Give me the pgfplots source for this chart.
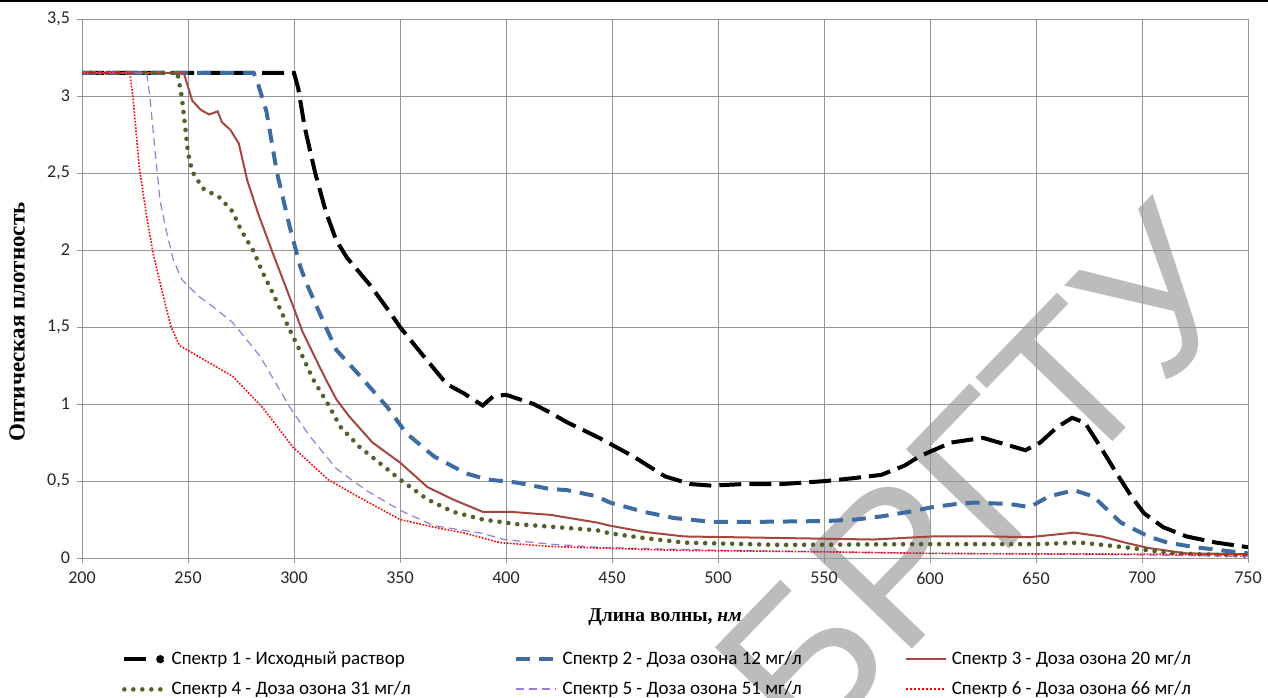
\documentclass[border=0pt]{standalone}
\usepackage{fontspec}
\setmainfont{Carlito}
\newfontfamily\tnr{Liberation Serif}
\newfontfamily\wm{Liberation Sans}
\usepackage{pgfplots}
\pgfplotsset{compat=1.18}
\definecolor{gridgray}{RGB}{150,150,150}
\definecolor{sblue}{RGB}{62,108,160}
\definecolor{sbrown}{RGB}{165,70,65}
\definecolor{sgreen}{RGB}{79,98,40}
\definecolor{spurple}{RGB}{160,120,216}
\definecolor{wmgray}{RGB}{188,188,188}
\begin{document}
\begin{tikzpicture}
\node[rotate=46, text=wmgray, font=\wm\fontsize{104}{104}\selectfont, inner sep=0pt] at (490pt,109.5pt) {БРГТУ};
\begin{axis}[
  at={(41pt,69.5pt)}, anchor=south west,
  scale only axis, width=583pt, height=269.5pt,
  xmin=200, xmax=750, ymin=0, ymax=3.5,
  xtick={200,250,...,750}, ytick={0,0.5,1,1.5,2,2.5,3,3.5},
  grid=major, grid style={line width=0.5pt, color=gridgray},
  axis line style={line width=0.5pt, color=gridgray},
  tick align=outside, major tick length=2.5pt,
  tick style={gridgray, line width=0.5pt},
  xtick pos=left, ytick pos=left,
  /pgf/number format/use comma,
  /pgf/number format/assume math mode=true,
  /pgf/number format/1000 sep={},
  ticklabel style={font=\fontsize{9}{11}\selectfont, text=black!85},
  xticklabel style={yshift=-1pt},
  xlabel={\tnr\bfseries Длина волны, \textit{нм}},
  xlabel style={at={(axis description cs:0.5,-0.109)}, anchor=center, font=\fontsize{9.8}{12}\selectfont},
  ylabel={\tnr\bfseries Оптическая плотность},
  ylabel style={at={(axis description cs:-0.0557,0.438)}, anchor=center, font=\fontsize{11.5}{13}\selectfont},
  legend columns=3,
  legend cell align=left,
  legend style={at={(axis description cs:0.034,-0.172)}, anchor=north west, draw=none, fill=none,
    inner sep=0pt, row sep=7pt, column sep=0pt, font=\fontsize{9.5}{11}\selectfont,
    nodes={inner sep=0pt}},
  legend image code/.code={\draw[#1] (0pt,0pt) -- (20pt,0pt);},
]
\addplot[black, line width=2pt, dash pattern=on 11pt off 4pt,
  legend image code/.code={\draw[black, line width=2pt] (0pt,0pt) -- (11pt,0pt); \fill[black] (18pt,0pt) circle (1pt);}]
coordinates {(200,3.15)(300,3.15)(302,3.05)(305,2.8)(310,2.5)(315,2.25)(320,2.06)(325,1.95)(336,1.77)(345,1.60)(350,1.50)(357,1.38)(366,1.23)(372,1.13)(380,1.07)(389,0.99)(394,1.05)(400,1.06)(413,1.0)(420,0.95)(429,0.88)(444,0.78)(460,0.66)(475,0.53)(487,0.48)(497,0.47)(512,0.48)(530,0.48)(551,0.50)(565,0.52)(577,0.54)(588,0.60)(595,0.66)(610,0.75)(625,0.78)(635,0.74)(645,0.70)(652,0.75)(660,0.85)(667,0.91)(673,0.88)(680,0.73)(688,0.55)(695,0.40)(701,0.29)(710,0.20)(721,0.14)(735,0.10)(750,0.07)};
\addlegendentry{\makebox[173.5pt][l]{\hspace{2.5pt}Спектр 1 - Исходный раствор}}

\addplot[sblue, line width=2pt, dash pattern=on 7pt off 4.5pt]
coordinates {(200,3.15)(281,3.15)(283,3.08)(287,2.9)(292,2.5)(298,2.15)(303,1.89)(306,1.78)(315,1.5)(320,1.35)(330,1.2)(344,0.98)(353,0.81)(366,0.66)(381,0.55)(391,0.51)(405,0.49)(420,0.45)(429,0.44)(443,0.40)(449,0.36)(465,0.30)(479,0.26)(497,0.235)(520,0.235)(551,0.24)(565,0.25)(577,0.27)(590,0.30)(601,0.33)(612,0.35)(621,0.36)(638,0.35)(647,0.33)(656,0.40)(668,0.44)(677,0.40)(690,0.23)(703,0.14)(712,0.10)(725,0.07)(750,0.03)};
\addlegendentry{\makebox[173.5pt][l]{\hspace{2.5pt}Спектр 2 - Доза озона 12 мг/л}}

\addplot[sbrown, line width=1pt]
coordinates {(200,3.15)(248,3.15)(252,2.97)(256,2.91)(260,2.88)(264,2.90)(266,2.83)(270,2.78)(274,2.69)(278,2.45)(283,2.24)(290,1.98)(295,1.80)(300,1.62)(304,1.47)(310,1.30)(315,1.16)(320,1.03)(326,0.92)(337,0.75)(350,0.62)(363,0.46)(375,0.38)(389,0.30)(402,0.30)(421,0.28)(443,0.23)(449,0.21)(465,0.17)(484,0.14)(529,0.13)(573,0.12)(601,0.14)(629,0.14)(647,0.135)(668,0.165)(681,0.14)(692,0.10)(703,0.065)(721,0.03)(750,0.025)};
\addlegendentry{\makebox[173.5pt][l]{\hspace{2.5pt}Спектр 3 - Доза озона 20 мг/л}}

\addplot[sgreen, line width=2.3pt, line cap=round, dash pattern=on 0pt off 4.5pt]
coordinates {(200,3.15)(245,3.15)(247,3.0)(248.6,2.81)(250,2.63)(252,2.51)(257,2.40)(261,2.37)(265,2.34)(271,2.25)(275,2.13)(281,1.99)(285,1.86)(290,1.72)(297,1.51)(303,1.34)(309,1.16)(316,1.0)(322,0.85)(331,0.72)(341,0.61)(350,0.51)(363,0.38)(375,0.30)(389,0.25)(405,0.22)(429,0.195)(443,0.18)(449,0.16)(465,0.13)(484,0.10)(529,0.085)(594,0.09)(650,0.09)(671,0.10)(692,0.07)(714,0.03)(750,0.015)};
\addlegendentry{\makebox[173.5pt][l]{\hspace{2.5pt}Спектр 4 - Доза озона 31 мг/л}}

\addplot[spurple, line width=0.6pt, dash pattern=on 4pt off 2.5pt,
  legend image code/.code={\draw[spurple, line width=0.9pt, dash pattern=on 4pt off 2.5pt] (0pt,0.25pt) -- (20pt,0.25pt);}]
coordinates {(200,3.15)(230.5,3.15)(232,3.0)(234.4,2.65)(236.8,2.32)(240,2.11)(243,1.94)(247,1.81)(252,1.74)(256,1.69)(262,1.63)(271,1.53)(284,1.31)(298,0.98)(307.5,0.79)(320,0.58)(334,0.44)(350,0.31)(366,0.21)(389,0.16)(399,0.12)(421,0.09)(443,0.07)(470,0.06)(500,0.05)(550,0.04)(600,0.03)(650,0.025)(700,0.02)(750,0.01)};
\addlegendentry{\makebox[173.5pt][l]{\hspace{2.5pt}Спектр 5 - Доза озона 51 мг/л}}

\addplot[red, line width=0.8pt, dash pattern=on 0.8pt off 0.8pt,
  legend image code/.code={\draw[red, line width=1.1pt, dash pattern=on 1pt off 1pt] (0pt,0.25pt) -- (20pt,0.25pt);}]
coordinates {(200,3.15)(222.5,3.15)(224,3.0)(227,2.54)(230.6,2.21)(233.5,1.98)(238,1.72)(242,1.50)(246,1.38)(256,1.30)(271,1.18)(285,0.98)(299.5,0.72)(316,0.51)(330,0.40)(350,0.25)(366,0.20)(381,0.16)(397,0.10)(421,0.075)(443,0.065)(480,0.05)(550,0.04)(600,0.03)(700,0.025)(750,0.02)};
\addlegendentry{\makebox[173.5pt][l]{\hspace{2.5pt}Спектр 6 - Доза озона 66 мг/л}}
\end{axis}
\draw[black, line width=1.2pt] (0,348pt) -- (634pt,348pt);
\pgfresetboundingbox
\path[use as bounding box] (0,0) rectangle (634pt,348.5pt);
\end{tikzpicture}
\end{document}
